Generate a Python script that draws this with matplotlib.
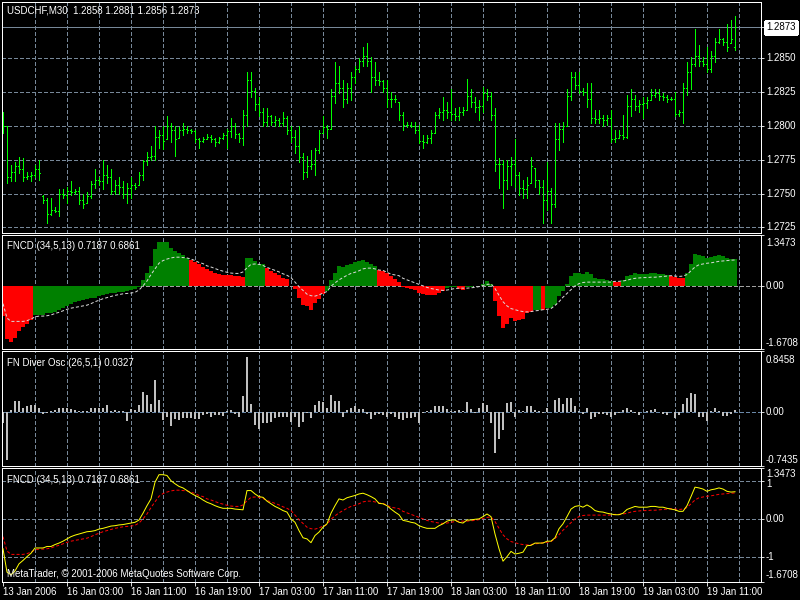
import numpy as np
import matplotlib
matplotlib.use('Agg')
import matplotlib.pyplot as plt
import matplotlib.transforms as mtransforms

# USDCHF M30 bars (open / high / low / close)
opens = [
    1.2808, 1.2800, 1.2762, 1.2766, 1.2770, 1.2768, 1.2762, 1.2763, 1.2764, 1.2768,
    1.2748, 1.2745, 1.2735, 1.2738, 1.2737, 1.2750, 1.2749, 1.2752, 1.2751, 1.2752,
    1.2745, 1.2743, 1.2748, 1.2757, 1.2760, 1.2759, 1.2764, 1.2762, 1.2752, 1.2756,
    1.2755, 1.2750, 1.2754, 1.2756, 1.2756, 1.2764, 1.2774, 1.2777, 1.2778, 1.2792,
    1.2793, 1.2790, 1.2800, 1.2797, 1.2791, 1.2797, 1.2798, 1.2797, 1.2796, 1.2790,
    1.2789, 1.2790, 1.2792, 1.2790, 1.2788, 1.2791, 1.2793, 1.2796, 1.2800, 1.2794,
    1.2791, 1.2808, 1.2834, 1.2826, 1.2816, 1.2810, 1.2803, 1.2807, 1.2803, 1.2804,
    1.2802, 1.2806, 1.2797, 1.2792, 1.2785, 1.2777, 1.2766, 1.2770, 1.2772, 1.2782,
    1.2795, 1.2799, 1.2798, 1.2822, 1.2832, 1.2828, 1.2820, 1.2828, 1.2836, 1.2842,
    1.2848, 1.2852, 1.2848, 1.2836, 1.2834, 1.2833, 1.2828, 1.2820, 1.2820, 1.2818,
    1.2808, 1.2801, 1.2801, 1.2800, 1.2797, 1.2789, 1.2788, 1.2791, 1.2795, 1.2808,
    1.2810, 1.2812, 1.2810, 1.2809, 1.2807, 1.2810, 1.2812, 1.2822, 1.2818, 1.2814,
    1.2815, 1.2824, 1.2822, 1.2808, 1.2772, 1.2772, 1.2760, 1.2770, 1.2772, 1.2764,
    1.2754, 1.2753, 1.2758, 1.2769, 1.2760, 1.2755, 1.2745, 1.2752, 1.2742, 1.2790,
    1.2798, 1.2800, 1.2822, 1.2836, 1.2830, 1.2826, 1.2825, 1.2820, 1.2806, 1.2805,
    1.2806, 1.2804, 1.2806, 1.2790, 1.2791, 1.2793, 1.2792, 1.2815, 1.2820, 1.2815,
    1.2816, 1.2817, 1.2819, 1.2823, 1.2824, 1.2822, 1.2821, 1.2820, 1.2820, 1.2809,
    1.2810, 1.2828, 1.2840, 1.2846, 1.2852, 1.2848, 1.2846, 1.2842, 1.2852, 1.2862,
    1.2864, 1.2862, 1.2861, 1.2858]
highs = [
    1.2810, 1.2800, 1.2771, 1.2773, 1.2777, 1.2776, 1.2766, 1.2766, 1.2771, 1.2775,
    1.2749, 1.2747, 1.2747, 1.2740, 1.2753, 1.2753, 1.2755, 1.2759, 1.2753, 1.2755,
    1.2750, 1.2751, 1.2759, 1.2768, 1.2762, 1.2775, 1.2771, 1.2768, 1.2760, 1.2762,
    1.2759, 1.2758, 1.2762, 1.2758, 1.2766, 1.2775, 1.2781, 1.2785, 1.2800, 1.2797,
    1.2800, 1.2807, 1.2802, 1.2800, 1.2799, 1.2802, 1.2800, 1.2798, 1.2797, 1.2791,
    1.2792, 1.2794, 1.2793, 1.2791, 1.2792, 1.2795, 1.2798, 1.2806, 1.2802, 1.2795,
    1.2812, 1.2840, 1.2840, 1.2828, 1.2821, 1.2813, 1.2813, 1.2808, 1.2807, 1.2806,
    1.2810, 1.2807, 1.2800, 1.2797, 1.2800, 1.2780, 1.2778, 1.2782, 1.2784, 1.2797,
    1.2807, 1.2801, 1.2827, 1.2847, 1.2844, 1.2834, 1.2832, 1.2840, 1.2844, 1.2850,
    1.2858, 1.2861, 1.2851, 1.2847, 1.2840, 1.2834, 1.2834, 1.2825, 1.2823, 1.2818,
    1.2810, 1.2803, 1.2803, 1.2803, 1.2801, 1.2793, 1.2793, 1.2797, 1.2810, 1.2813,
    1.2821, 1.2818, 1.2827, 1.2813, 1.2814, 1.2814, 1.2835, 1.2827, 1.2821, 1.2819,
    1.2829, 1.2827, 1.2825, 1.2813, 1.2776, 1.2775, 1.2775, 1.2777, 1.2790, 1.2766,
    1.2760, 1.2762, 1.2777, 1.2769, 1.2760, 1.2760, 1.2773, 1.2754, 1.2802, 1.2802,
    1.2803, 1.2827, 1.2840, 1.2840, 1.2840, 1.2828, 1.2832, 1.2832, 1.2812, 1.2812,
    1.2808, 1.2808, 1.2812, 1.2797, 1.2797, 1.2808, 1.2823, 1.2827, 1.2823, 1.2819,
    1.2821, 1.2821, 1.2827, 1.2827, 1.2827, 1.2824, 1.2823, 1.2821, 1.2825, 1.2812,
    1.2832, 1.2847, 1.2851, 1.2872, 1.2860, 1.2851, 1.2858, 1.2855, 1.2865, 1.2872,
    1.2865, 1.2875, 1.2878, 1.2881]
lows = [
    1.2795, 1.2758, 1.2759, 1.2759, 1.2765, 1.2759, 1.2761, 1.2759, 1.2762, 1.2760,
    1.2743, 1.2728, 1.2734, 1.2736, 1.2733, 1.2747, 1.2743, 1.2749, 1.2750, 1.2742,
    1.2739, 1.2743, 1.2747, 1.2754, 1.2756, 1.2753, 1.2758, 1.2750, 1.2750, 1.2750,
    1.2747, 1.2743, 1.2747, 1.2753, 1.2756, 1.2760, 1.2771, 1.2775, 1.2775, 1.2784,
    1.2783, 1.2790, 1.2788, 1.2778, 1.2791, 1.2793, 1.2795, 1.2795, 1.2788, 1.2784,
    1.2788, 1.2790, 1.2788, 1.2785, 1.2787, 1.2790, 1.2784, 1.2792, 1.2791, 1.2788,
    1.2786, 1.2800, 1.2821, 1.2812, 1.2807, 1.2800, 1.2800, 1.2801, 1.2800, 1.2800,
    1.2800, 1.2794, 1.2788, 1.2780, 1.2773, 1.2761, 1.2762, 1.2768, 1.2764, 1.2780,
    1.2795, 1.2791, 1.2798, 1.2817, 1.2824, 1.2814, 1.2817, 1.2819, 1.2832, 1.2840,
    1.2844, 1.2844, 1.2825, 1.2830, 1.2830, 1.2825, 1.2814, 1.2814, 1.2818, 1.2804,
    1.2797, 1.2799, 1.2799, 1.2795, 1.2787, 1.2784, 1.2787, 1.2787, 1.2795, 1.2806,
    1.2804, 1.2806, 1.2804, 1.2804, 1.2804, 1.2808, 1.2812, 1.2814, 1.2810, 1.2804,
    1.2810, 1.2819, 1.2804, 1.2767, 1.2754, 1.2739, 1.2753, 1.2756, 1.2755, 1.2749,
    1.2747, 1.2747, 1.2758, 1.2755, 1.2750, 1.2728, 1.2738, 1.2728, 1.2740, 1.2782,
    1.2788, 1.2800, 1.2819, 1.2827, 1.2824, 1.2823, 1.2814, 1.2802, 1.2802, 1.2802,
    1.2800, 1.2801, 1.2788, 1.2788, 1.2791, 1.2790, 1.2791, 1.2807, 1.2812, 1.2810,
    1.2806, 1.2813, 1.2819, 1.2821, 1.2819, 1.2819, 1.2818, 1.2819, 1.2807, 1.2807,
    1.2802, 1.2823, 1.2827, 1.2844, 1.2844, 1.2844, 1.2840, 1.2840, 1.2847, 1.2861,
    1.2860, 1.2855, 1.2861, 1.2856]
closes = [
    1.2800, 1.2762, 1.2766, 1.2770, 1.2768, 1.2762, 1.2763, 1.2764, 1.2768, 1.2765,
    1.2745, 1.2735, 1.2738, 1.2737, 1.2750, 1.2749, 1.2752, 1.2751, 1.2752, 1.2745,
    1.2742, 1.2748, 1.2757, 1.2760, 1.2759, 1.2764, 1.2762, 1.2752, 1.2756, 1.2755,
    1.2750, 1.2754, 1.2756, 1.2755, 1.2764, 1.2774, 1.2777, 1.2778, 1.2792, 1.2793,
    1.2789, 1.2800, 1.2797, 1.2790, 1.2797, 1.2798, 1.2797, 1.2796, 1.2790, 1.2789,
    1.2790, 1.2792, 1.2790, 1.2788, 1.2791, 1.2793, 1.2796, 1.2800, 1.2794, 1.2791,
    1.2808, 1.2834, 1.2826, 1.2816, 1.2810, 1.2803, 1.2807, 1.2803, 1.2804, 1.2802,
    1.2806, 1.2797, 1.2792, 1.2785, 1.2777, 1.2766, 1.2770, 1.2772, 1.2782, 1.2795,
    1.2799, 1.2798, 1.2822, 1.2832, 1.2828, 1.2820, 1.2828, 1.2836, 1.2842, 1.2848,
    1.2852, 1.2848, 1.2836, 1.2834, 1.2833, 1.2828, 1.2820, 1.2820, 1.2820, 1.2808,
    1.2801, 1.2801, 1.2800, 1.2797, 1.2789, 1.2788, 1.2791, 1.2795, 1.2808, 1.2810,
    1.2812, 1.2810, 1.2809, 1.2807, 1.2810, 1.2812, 1.2822, 1.2818, 1.2814, 1.2815,
    1.2824, 1.2822, 1.2808, 1.2772, 1.2772, 1.2760, 1.2770, 1.2772, 1.2764, 1.2754,
    1.2753, 1.2756, 1.2770, 1.2760, 1.2755, 1.2745, 1.2752, 1.2742, 1.2790, 1.2798,
    1.2800, 1.2822, 1.2836, 1.2830, 1.2826, 1.2825, 1.2820, 1.2806, 1.2805, 1.2806,
    1.2804, 1.2806, 1.2790, 1.2791, 1.2793, 1.2792, 1.2815, 1.2820, 1.2815, 1.2816,
    1.2817, 1.2819, 1.2823, 1.2824, 1.2822, 1.2821, 1.2820, 1.2820, 1.2809, 1.2810,
    1.2828, 1.2840, 1.2846, 1.2852, 1.2848, 1.2846, 1.2842, 1.2852, 1.2862, 1.2864,
    1.2862, 1.2858, 1.2864, 1.2873]

# FNCD (34,5,13) main line and signal line
fncd = [
    -0.79, -1.41, -1.48, -1.38, -1.19, -1.10, -1.00, -0.91, -0.77, -0.77,
    -0.77, -0.73, -0.73, -0.68, -0.64, -0.59, -0.53, -0.47, -0.43, -0.40,
    -0.37, -0.34, -0.33, -0.31, -0.27, -0.25, -0.22, -0.19, -0.18, -0.16,
    -0.15, -0.13, -0.11, -0.09, -0.03, 0.15, 0.35, 0.53, 0.97, 1.17,
    1.17, 1.15, 1.01, 0.93, 0.86, 0.82, 0.75, 0.68, 0.62, 0.57,
    0.50, 0.44, 0.40, 0.35, 0.31, 0.28, 0.28, 0.28, 0.26, 0.25,
    0.24, 0.75, 0.75, 0.66, 0.59, 0.57, 0.47, 0.40, 0.33, 0.28,
    0.22, 0.18, 0.00, -0.09, -0.31, -0.50, -0.53, -0.63, -0.44, -0.35,
    -0.22, -0.13, 0.15, 0.35, 0.53, 0.50, 0.56, 0.59, 0.62, 0.66,
    0.68, 0.64, 0.59, 0.53, 0.41, 0.40, 0.35, 0.26, 0.18, 0.11,
    -0.04, -0.06, -0.09, -0.11, -0.18, -0.22, -0.25, -0.25, -0.25, -0.18,
    -0.13, -0.06, -0.03, -0.03, -0.09, -0.11, -0.03, -0.03, -0.01, 0.00,
    0.06, 0.13, 0.06, -0.40, -0.79, -1.12, -1.00, -0.86, -0.93, -0.91,
    -0.88, -0.71, -0.70, -0.64, -0.64, -0.64, -0.59, -0.59, -0.50, -0.26,
    -0.13, 0.06, 0.26, 0.33, 0.35, 0.31, 0.37, 0.31, 0.22, 0.19,
    0.18, 0.15, 0.13, 0.11, 0.11, 0.15, 0.25, 0.29, 0.33, 0.31,
    0.31, 0.31, 0.33, 0.33, 0.31, 0.31, 0.28, 0.26, 0.24, 0.20,
    0.20, 0.35, 0.59, 0.84, 0.82, 0.79, 0.73, 0.77, 0.79, 0.82,
    0.79, 0.73, 0.71, 0.7187]
signal = [
    -0.47, -0.85, -0.94, -0.94, -0.94, -0.94, -0.92, -0.88, -0.82, -0.80,
    -0.80, -0.79, -0.77, -0.73, -0.70, -0.66, -0.62, -0.59, -0.57, -0.55,
    -0.53, -0.51, -0.47, -0.42, -0.38, -0.34, -0.31, -0.28, -0.25, -0.23,
    -0.21, -0.20, -0.19, -0.17, -0.11, 0.00, 0.13, 0.30, 0.45, 0.60,
    0.67, 0.71, 0.74, 0.76, 0.76, 0.75, 0.74, 0.71, 0.67, 0.62,
    0.59, 0.53, 0.50, 0.46, 0.42, 0.39, 0.36, 0.34, 0.33, 0.33,
    0.37, 0.48, 0.57, 0.58, 0.57, 0.54, 0.49, 0.45, 0.41, 0.37,
    0.32, 0.28, 0.22, 0.10, -0.02, -0.12, -0.22, -0.26, -0.27, -0.24,
    -0.19, -0.15, -0.01, 0.08, 0.16, 0.22, 0.28, 0.33, 0.36, 0.40,
    0.45, 0.47, 0.47, 0.45, 0.42, 0.41, 0.36, 0.31, 0.29, 0.27,
    0.20, 0.16, 0.12, 0.08, 0.04, 0.00, -0.04, -0.07, -0.09, -0.11,
    -0.12, -0.11, -0.09, -0.07, -0.06, -0.06, -0.06, -0.05, -0.04, -0.02,
    0.01, 0.04, 0.05, -0.07, -0.25, -0.42, -0.53, -0.60, -0.63, -0.66,
    -0.68, -0.69, -0.68, -0.66, -0.65, -0.63, -0.62, -0.60, -0.52, -0.42,
    -0.30, -0.20, -0.10, 0.00, 0.06, 0.09, 0.10, 0.10, 0.10, 0.10,
    0.10, 0.10, 0.10, 0.12, 0.12, 0.13, 0.15, 0.18, 0.20, 0.21,
    0.22, 0.22, 0.23, 0.23, 0.24, 0.25, 0.26, 0.27, 0.26, 0.25,
    0.26, 0.30, 0.40, 0.50, 0.56, 0.58, 0.60, 0.61, 0.63, 0.65,
    0.66, 0.67, 0.68, 0.6861]

# FN Diver Osc (26,5,1)
diver = [
    -0.15, -0.66, 0.03, 0.16, 0.16, 0.06, 0.09, 0.10, 0.10, 0.06,
    -0.02, -0.01, 0.02, 0.03, 0.06, 0.06, 0.06, 0.05, 0.03, 0.02,
    0.01, 0.02, 0.06, 0.06, 0.06, 0.06, 0.10, 0.02, 0.03, 0.01,
    0.01, -0.12, 0.04, 0.03, 0.10, 0.28, 0.24, 0.11, 0.44, 0.17,
    -0.11, -0.06, -0.19, -0.09, -0.11, -0.08, -0.08, -0.08, -0.09, -0.09,
    -0.04, -0.03, -0.06, -0.04, -0.04, -0.05, 0.02, 0.03, -0.03, -0.06,
    0.22, 0.76, 0.12, -0.18, -0.23, -0.15, -0.15, -0.13, -0.08, -0.07,
    -0.06, -0.06, -0.14, -0.06, -0.21, -0.14, -0.01, -0.08, 0.10, 0.15,
    0.14, 0.06, 0.24, 0.15, 0.15, -0.06, 0.03, 0.06, 0.08, 0.05,
    0.05, -0.03, -0.10, -0.04, -0.03, -0.04, -0.06, -0.03, -0.07, -0.09,
    -0.11, -0.08, -0.08, -0.07, -0.15, -0.01, 0.02, 0.03, 0.09, 0.09,
    0.09, 0.05, 0.02, 0.01, 0.03, 0.01, 0.14, 0.05, -0.01, 0.06,
    0.13, 0.10, -0.15, -0.57, -0.37, -0.25, 0.13, 0.14, -0.06, 0.03,
    0.01, 0.08, 0.09, 0.03, 0.02, -0.01, 0.06, 0.00, 0.17, 0.19,
    0.11, 0.19, 0.19, 0.08, 0.02, -0.03, 0.06, -0.09, -0.06, -0.03,
    -0.03, -0.04, -0.06, -0.04, -0.01, 0.03, 0.06, 0.03, -0.01, -0.04,
    0.00, 0.02, 0.03, 0.04, 0.00, -0.03, -0.04, 0.00, -0.08, -0.04,
    0.11, 0.20, 0.26, 0.25, -0.06, -0.06, -0.12, 0.02, 0.06, 0.02,
    -0.05, -0.05, -0.03, 0.0327]

price_levels = [1.2725, 1.2750, 1.2775, 1.2800, 1.2825, 1.2850]
last_price = 1.2873
time_bars = [0, 16, 32, 48, 64, 80, 96, 112, 128, 144, 160, 176]
time_labels = ['13 Jan 2006', '16 Jan 03:00', '16 Jan 11:00', '16 Jan 19:00',
               '17 Jan 03:00', '17 Jan 11:00', '17 Jan 19:00', '18 Jan 03:00',
               '18 Jan 11:00', '18 Jan 19:00', '19 Jan 03:00', '19 Jan 11:00']

plt.rcParams['font.family'] = ['Liberation Sans', 'DejaVu Sans']
plt.rcParams['lines.antialiased'] = False
plt.rcParams['patch.antialiased'] = False
plt.rcParams['lines.scale_dashes'] = False

x = np.arange(len(closes))
W, H = 800, 600
PX = 0.6      # about one pixel, drawn without antialiasing
LW = 0.72     # indicator lines, antialiased
GRID = '#778899'
DOTS = (0, (2.2, 1.5))
FS = 7

fig = plt.figure(figsize=(8, 6), dpi=100, facecolor='black')


def panel(top, bottom, ylim):
    ax = fig.add_axes([2 / W, 1 - bottom / H, 759 / W, (bottom - top) / H])
    ax.set_facecolor('black')
    for s in ax.spines.values():
        s.set_color('white')
        s.set_linewidth(PX)
    ax.set_xlim(-0.25, 189.5)
    ax.set_ylim(*ylim)
    ax.set_xticks([])
    ax.yaxis.tick_right()
    ax.tick_params(axis='y', colors='white', length=2.5, width=PX,
                   labelright=False, labelleft=False)
    for g in range(8, 190, 8):
        ax.axvline(g, color=GRID, lw=PX, ls=DOTS, zorder=0)
    return ax


def right_label(ax, y, s, data=True, dy=0):
    base = (mtransforms.blended_transform_factory(ax.transAxes, ax.transData)
            if data else ax.transAxes)
    tr = mtransforms.offset_copy(base, fig=fig, x=5, y=dy, units='dots')
    ax.text(1.0, y, s, transform=tr, color='white', fontsize=FS,
            ha='left', va='center', clip_on=False)


def title(ax, s, dy):
    tr = mtransforms.offset_copy(ax.transAxes, fig=fig, x=5, y=-dy, units='dots')
    ax.text(0, 1, s, transform=tr, color='white', fontsize=FS,
            ha='left', va='center', zorder=5)


# price panel
ax1 = panel(2, 233, (1.27208, 1.28916))
for p in price_levels:
    ax1.axhline(p, color=GRID, lw=PX, ls=DOTS, zorder=0)
    right_label(ax1, p, f'{p:.4f}')
ax1.axhline(last_price, color=GRID, lw=PX, zorder=0)
ax1.set_yticks(price_levels + [last_price])
ax1.vlines(x, lows, highs, color='#00FF00', lw=PX, zorder=2)
ax1.hlines(opens, x - 0.3, x, color='#00FF00', lw=PX, zorder=2)
ax1.hlines(closes, x, x + 0.3, color='#00FF00', lw=PX, zorder=2)
tr = mtransforms.offset_copy(
    mtransforms.blended_transform_factory(ax1.transAxes, ax1.transData),
    fig=fig, x=5, y=0, units='dots')
ax1.text(1.0, last_price, f'{last_price:.4f}', transform=tr, color='black',
         fontsize=FS, ha='left', va='center', clip_on=False,
         bbox=dict(boxstyle='square,pad=0.15', fc='white', ec='white'))
title(ax1, f'USDCHF,M30  {opens[-1]:.4f} {highs[-1]:.4f} {lows[-1]:.4f} {closes[-1]:.4f}', 8.7)

# FNCD histogram panel
fncd_a = np.array(fncd)
sig_a = np.array(signal)
cols = np.where(fncd_a > sig_a, '#008000', '#FF0000')
ax2 = panel(235, 349, (-1.6708, 1.3473))
ax2.axhline(0, color='#A0A0A0', lw=PX, ls=DOTS, zorder=0)
ax2.bar(x, fncd_a, width=1.0, color=cols, linewidth=0, zorder=2)
ax2.plot(x, sig_a, color='#D8D8D8', lw=LW, ls=DOTS, antialiased=True, zorder=3)
ax2.set_yticks([-1.6708, 0, 1.3473])
right_label(ax2, 0.93, '1.3473', data=False)
right_label(ax2, 0, '0.00')
right_label(ax2, 0.053, '-1.6708', data=False)
title(ax2, f'FNCD (34,5,13) {fncd[-1]:.4f} {signal[-1]:.4f}', 11)

# FN Diver Osc panel
ax3 = panel(351, 466, (-0.7435, 0.8458))
ax3.axhline(0, color='#6A88A8', lw=PX, ls=DOTS, zorder=0)
ax3.bar(x, diver, width=0.7, color='#C0C0C0', linewidth=0, zorder=2)
ax3.set_yticks([-0.7435, 0, 0.8458])
right_label(ax3, 0.92, '0.8458', data=False)
right_label(ax3, 0, '0.00')
right_label(ax3, 0.052, '-0.7435', data=False)
title(ax3, f'FN Diver Osc (26,5,1) {diver[-1]:.4f}', 12)

# FNCD line panel
ax4 = panel(468, 582, (-1.6708, 1.3473))
for lv in [1, 0, -1]:
    ax4.axhline(lv, color=GRID, lw=PX, ls=DOTS, zorder=0)
ax4.plot(x, sig_a, color='#FF0000', lw=LW, ls=DOTS, antialiased=True, zorder=2)
ax4.plot(x, fncd_a, color='#FFFF00', lw=LW, antialiased=True, zorder=3)
ax4.set_yticks([-1.6708, -1, 0, 1, 1.3473])
right_label(ax4, 0.948, '1.3473', data=False)
right_label(ax4, 1, '1', dy=-3)
right_label(ax4, 0, '0.00')
right_label(ax4, -1, '-1')
right_label(ax4, 0.06, '-1.6708', data=False)
title(ax4, f'FNCD (34,5,13) {fncd[-1]:.4f} {signal[-1]:.4f}', 12)
tr = mtransforms.offset_copy(ax4.transAxes, fig=fig, x=5, y=7.7, units='dots')
ax4.text(0, 0, 'MetaTrader, © 2001-2006 MetaQuotes Software Corp.', transform=tr,
         color='white', fontsize=FS, ha='left', va='center', zorder=5)

ax4.set_xticks(time_bars)
ax4.tick_params(axis='x', colors='white', length=3, width=PX, labelbottom=False)
tr = mtransforms.offset_copy(
    mtransforms.blended_transform_factory(ax4.transData, ax4.transAxes),
    fig=fig, x=0, y=-9.7, units='dots')
for b, lab in zip(time_bars, time_labels):
    ax4.text(b, 0, lab, transform=tr, color='white', fontsize=FS,
             ha='left', va='center', clip_on=False)

fig.savefig('out.png', dpi=100, facecolor='black')
